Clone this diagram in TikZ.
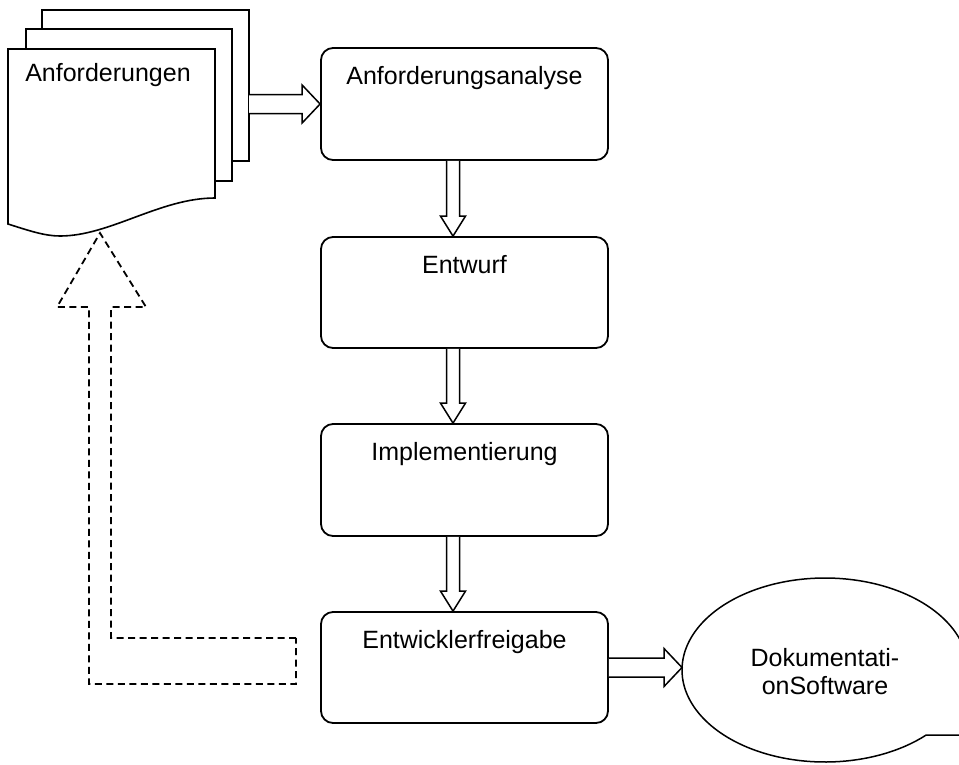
\documentclass[tikz,border=0pt]{standalone}
\usepackage{fontspec}
\setmainfont{Liberation Sans}
\usetikzlibrary{calc,shapes.geometric}
\newcommand\vblock[2]{%
  \draw[blk] ($(#1)+(-6.5,0)$) -- ($(#2)+(-6.5,-20)$) -- ($(#2)+(-12.5,-20)$) -- (#2)
    -- ($(#2)+(12.5,-20)$) -- ($(#2)+(6.5,-20)$) -- ($(#1)+(6.5,0)$);}
\newcommand\hblock[2]{%
  \draw[blk] ($(#1)+(0,-9.5)$) -- ($(#2)+(-18,-9.5)$) -- ($(#2)+(-18,-19)$) -- (#2)
    -- ($(#2)+(-18,19)$) -- ($(#2)+(-18,9.5)$) -- ($(#1)+(0,9.5)$);}
\begin{document}
\begin{tikzpicture}[x=1pt,y=-1pt,
  lbl/.style={font=\fontsize{25}{28}\selectfont},
  box/.style={draw, line width=1.8pt, rounded corners=12pt, minimum width=287pt,
    minimum height=112pt, inner sep=0pt},
  boxtext/.style={lbl, anchor=base, yshift=-37pt},
  blk/.style={line width=1.5pt, line join=miter, fill=white},
  pg/.style={draw, line width=1.6pt, fill=white, line join=miter},
  fb/.style={line width=1.8pt, dash pattern=on 7pt off 4.5pt},
]
\useasboundingbox (0,0) rectangle (959,764);
\clip (0,0) rectangle (959,764);
\fill[white] (0,0) rectangle (959,764);

% stacked documents
\draw[pg] (42,29) -- (42,10) -- (249,10) -- (249,161) -- (232,161);
\draw[pg] (26,49) -- (26,29) -- (232,29) -- (232,181) -- (215,181);
\draw[pg] (8,49) -- (215,49) -- (215,198)
  .. controls (160,198) and (110,236) .. (60,236)
  .. controls (45,236) and (30,231) .. (8,224) -- cycle;
\node[lbl, anchor=base] (doc) at (108,81) {Anforderungen};
\coordinate (pgR) at (249,10);
\coordinate (docB) at (100,233);

% process boxes
\node[box, label={[boxtext]north:Anforderungsanalyse}] (A) at (464.5,104) {};
\node[box, minimum height=111pt, label={[boxtext]north:Entwurf}] (B) at (464.5,292.5) {};
\node[box, label={[boxtext]north:Implementierung}] (C) at (464.5,480) {};
\node[box, minimum height=111pt, label={[boxtext]north:Entwicklerfreigabe}] (D) at (464.5,667.5) {};

% callout
\node[ellipse, minimum width=286pt, minimum height=184pt, inner sep=0pt, outer sep=0pt,
  align=center, lbl] (E) at (825,672) {Dokumentati-\\onSoftware};
\coordinate (tail) at (1000,735);
\draw[line width=1.5pt, line join=miter]
  plot[smooth, domain=-15:315, samples=120] ({825+143*cos(\x)},{670-92*sin(\x)})
  -- (tail) -- cycle;

% block arrows
\hblock{A.west -| pgR}{A.west}
\coordinate (a1) at ([xshift=-11.5pt]A.south);
\coordinate (b1) at ([xshift=-11.5pt]B.north);
\coordinate (b2) at ([xshift=-11.5pt]B.south);
\coordinate (c1) at ([xshift=-11.5pt]C.north);
\coordinate (c2) at ([xshift=-11.5pt]C.south);
\coordinate (d1) at ([xshift=-11.5pt]D.north);
\vblock{a1}{b1}
\vblock{b2}{c1}
\vblock{c2}{d1}
\hblock{D.east}{D.east -| E.west}

% dashed feedback arrow
\coordinate (fbR) at (296,661);
\draw[fb] ($(fbR)+(0,-23)$) -- (111,638) -- (111,307) -- (146,307) -- (docB)
  -- (57,307) -- (89,307) -- (89,684) -- ($(fbR)+(0,23)$) -- cycle;
\end{tikzpicture}
\end{document}
